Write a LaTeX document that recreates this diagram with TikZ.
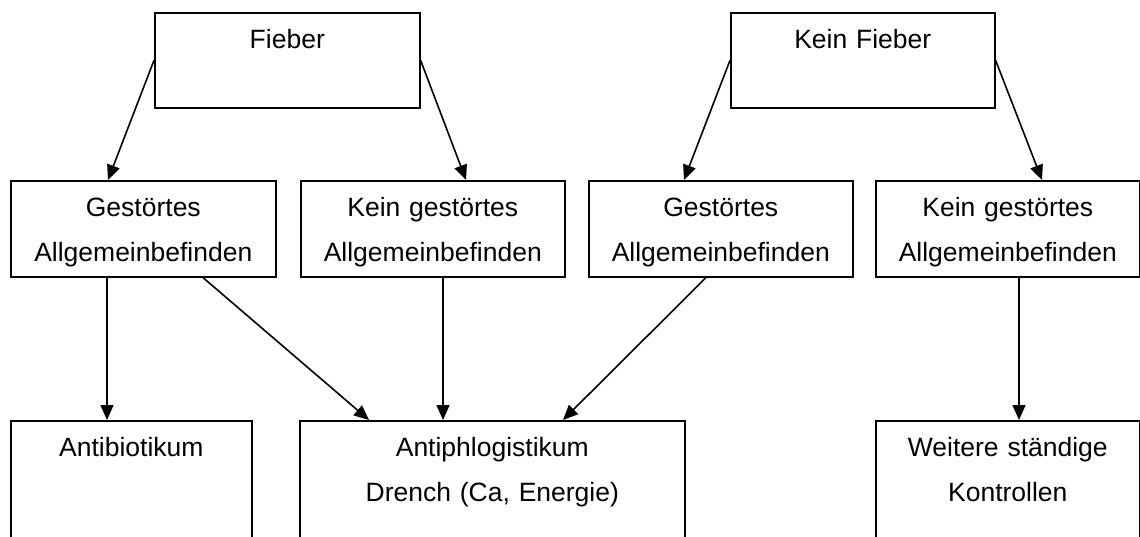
\documentclass[tikz,border=0pt]{standalone}
\usepackage{fontspec}
\setmainfont{Liberation Sans}
\usetikzlibrary{arrows.meta,calc}

\begin{document}
\begin{tikzpicture}[
    x=1pt, y=-1pt,
    >={Triangle[length=15pt,width=13pt]},
    every node/.style={font=\fontsize{26.5}{45}\selectfont},
    box/.style={draw, line width=1.6pt, inner sep=0pt, anchor=north west,
                align=center, text height=36pt},
    flow/.style={->, line width=1.6pt}
]
\useasboundingbox (0,0) rectangle (1140,536);

% top row
\node[box, text width=265pt, text depth=59pt] (fieber) at (154,12) {Fieber};
\node[box, text width=264pt, text depth=59pt] (kfieber) at (730,12) {Kein Fieber};

% middle row
\node[box, text width=265pt, text depth=60pt] (ga1) at (10,180) {Gestörtes\\Allgemeinbefinden};
\node[box, text width=264pt, text depth=60pt] (kga1) at (300,180) {Kein gestörtes\\Allgemeinbefinden};
\node[box, text width=264pt, text depth=60pt] (ga2) at (588,180) {Gestörtes\\Allgemeinbefinden};
\node[box, text width=264pt, text depth=60pt] (kga2) at (875,180) {Kein gestörtes\\Allgemeinbefinden};

% bottom row
\node[box, text width=241pt, text depth=92pt] (anti) at (10,420) {Antibiotikum};
\node[box, text width=385pt, text depth=92pt] (antiph) at (299,420) {Antiphlogistikum\\Drench (Ca, Energie)};
\node[box, text width=264pt, text depth=92pt] (kontr) at (875,420) {Weitere ständige\\Kontrollen};

\draw[flow] (fieber.west) -- ($(ga1.north west)+(98,0)$);
\draw[flow] (fieber.east) -- ($(kga1.north west)+(166,0)$);
\draw[flow] (kfieber.west) -- ($(ga2.north west)+(96,0)$);
\draw[flow] (kfieber.east) -- ($(kga2.north west)+(167,0)$);

\draw[flow] ($(ga1.south west)+(97,0)$) -- ($(anti.north west)+(97,0)$);
\draw[flow] ($(ga1.south west)+(193,0)$) -- ($(antiph.north west)+(70,0)$);
\draw[flow] ($(kga1.south west)+(143,0)$) -- ($(antiph.north west)+(144,0)$);
\draw[flow] ($(ga2.south west)+(118,0)$) -- ($(antiph.north west)+(264,0)$);
\draw[flow] ($(kga2.south west)+(144,0)$) -- ($(kontr.north west)+(144,0)$);
\end{tikzpicture}
\end{document}
